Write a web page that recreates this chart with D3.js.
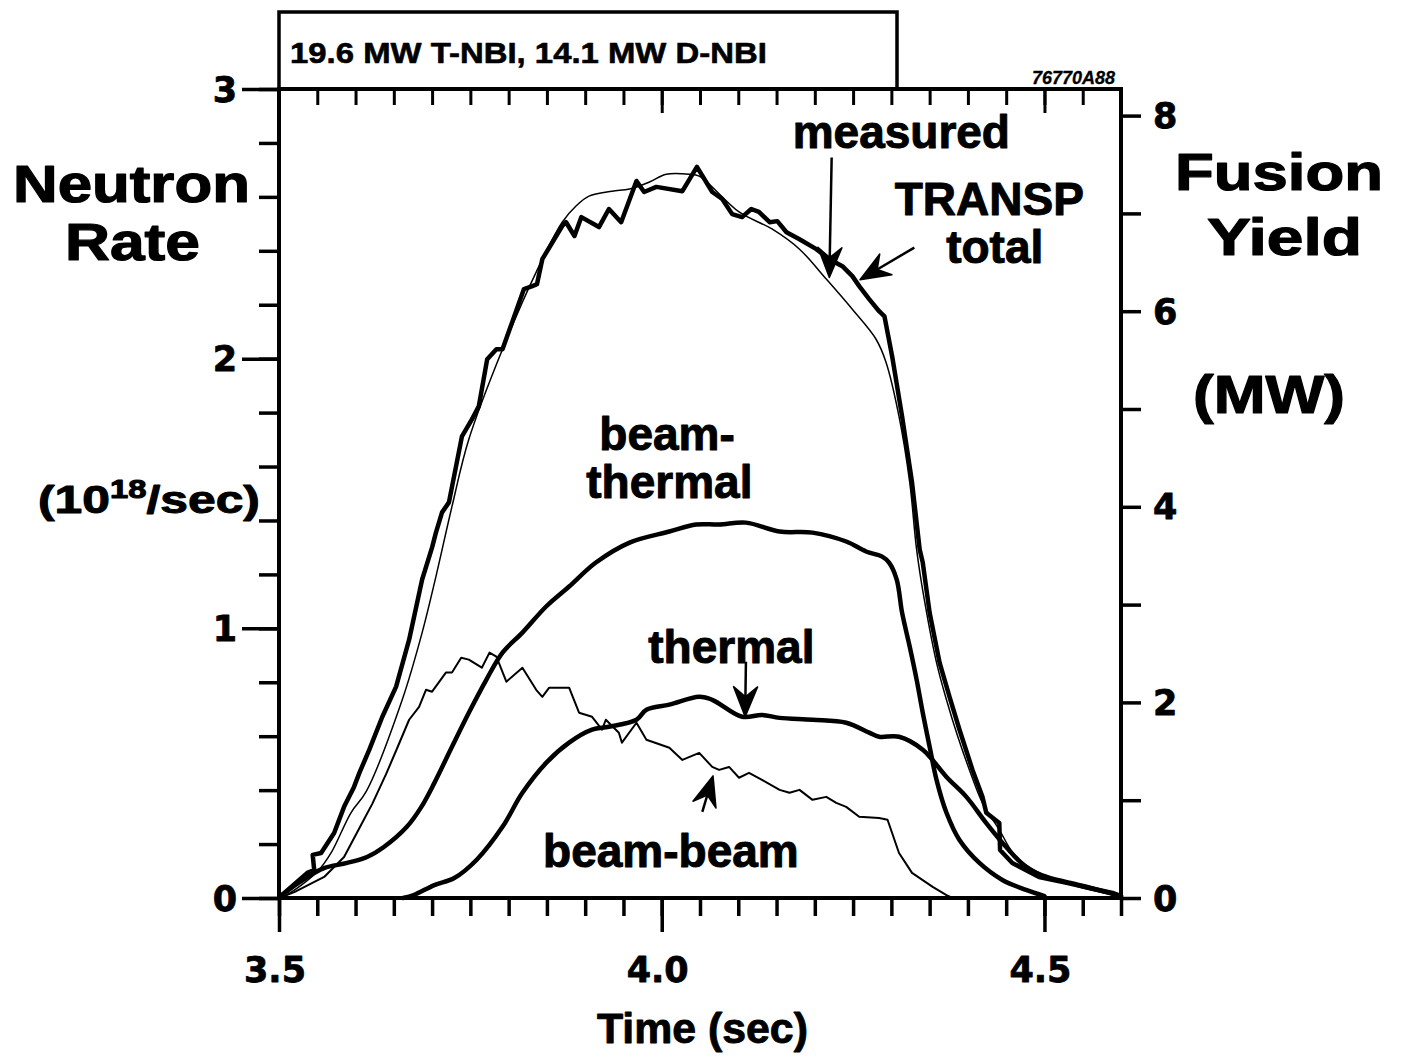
<!DOCTYPE html>
<html><head><meta charset="utf-8">
<script src="https://cdn.jsdelivr.net/npm/d3@7"></script>
<style>body{margin:0;background:#fff} svg{display:block} text{paint-order:stroke;stroke:#000;stroke-linejoin:round}</style>
</head><body>
<svg id="chart" width="1406" height="1056"></svg>
<script>
// ---------------- data (time in s, neutron rate in 1e18/s) ----------------
const xTickValues = [3.5, 4.0, 4.5];
const xTickLabels = ["3.5", "4.0", "4.5"];
const leftTickValues = [0, 1, 2, 3];
const leftTickLabels = ["0", "1", "2", "3"];
const rightTickValues = [0, 2, 4, 6, 8];
const rightTickLabels = ["0", "2", "4", "6", "8"];

const transpTotal = [
[3.500,0.000],[3.504,0.011],[3.537,0.093],[3.546,0.104],[3.544,0.160],[3.555,0.167],
[3.572,0.241],[3.585,0.338],[3.598,0.412],[3.605,0.464],[3.618,0.550],[3.635,0.672],
[3.653,0.784],[3.670,0.958],[3.687,1.181],[3.700,1.300],[3.705,1.355],[3.713,1.430],
[3.722,1.467],[3.739,1.712],[3.752,1.775],[3.761,1.823],[3.772,1.998],[3.784,2.035],
[3.792,2.035],[3.820,2.258],[3.831,2.269],[3.837,2.276],[3.844,2.369],[3.870,2.492],
[3.875,2.506],[3.886,2.455],[3.895,2.525],[3.918,2.488],[3.931,2.555],[3.947,2.506],
[3.967,2.659],[3.977,2.618],[3.993,2.637],[4.027,2.621],[4.046,2.711],[4.066,2.618],
[4.079,2.592],[4.092,2.536],[4.105,2.525],[4.117,2.555],[4.127,2.544],[4.141,2.506],
[4.151,2.510],[4.163,2.469],[4.180,2.443],[4.202,2.406],[4.219,2.369],[4.236,2.343],
[4.249,2.306],[4.258,2.269],[4.271,2.221],[4.284,2.176],[4.291,2.157],[4.301,2.009],
[4.314,1.786],[4.327,1.541],[4.337,1.292],[4.341,1.244],[4.350,1.058],[4.363,0.873],
[4.376,0.746],[4.389,0.624],[4.406,0.475],[4.419,0.375],[4.424,0.316],[4.441,0.278],
[4.442,0.178],[4.458,0.130],[4.493,0.078],[4.529,0.056],[4.559,0.037],[4.589,0.019],
[4.600,0.007]
];

const measured = [
[3.500,0.000],[3.510,0.011],[3.550,0.097],[3.568,0.167],[3.594,0.316],[3.614,0.395],
[3.661,0.735],[3.687,0.984],[3.705,1.192],[3.726,1.452],[3.748,1.701],[3.792,2.035],
[3.836,2.321],[3.870,2.506],[3.888,2.566],[3.905,2.603],[3.935,2.621],[3.958,2.629],
[3.984,2.655],[4.006,2.684],[4.036,2.684],[4.049,2.677],[4.101,2.544],[4.144,2.481],
[4.180,2.406],[4.215,2.295],[4.249,2.183],[4.280,2.072],[4.293,1.987],[4.310,1.786],
[4.324,1.541],[4.333,1.292],[4.343,1.107],[4.359,0.873],[4.372,0.735],[4.386,0.605],
[4.402,0.475],[4.419,0.353],[4.441,0.253],[4.461,0.160],[4.493,0.093],[4.533,0.052],
[4.572,0.022],[4.600,0.005]
];

const beamThermal = [
[3.500,0.000],[3.504,0.011],[3.537,0.078],[3.559,0.111],[3.589,0.130],[3.615,0.152],
[3.637,0.189],[3.667,0.264],[3.686,0.338],[3.703,0.427],[3.726,0.561],[3.748,0.687],
[3.771,0.810],[3.792,0.910],[3.818,0.984],[3.849,1.081],[3.879,1.155],[3.914,1.244],
[3.958,1.318],[4.010,1.359],[4.045,1.385],[4.075,1.385],[4.110,1.392],[4.154,1.359],
[4.197,1.355],[4.241,1.322],[4.267,1.285],[4.288,1.266],[4.297,1.244],[4.307,1.181],
[4.314,1.058],[4.324,0.932],[4.333,0.810],[4.341,0.687],[4.350,0.561],[4.359,0.438],
[4.372,0.316],[4.389,0.215],[4.415,0.130],[4.445,0.067],[4.476,0.030],[4.500,0.007]
];

const thermal = [
[3.662,0.000],[3.676,0.011],[3.703,0.048],[3.729,0.074],[3.758,0.141],[3.792,0.264],
[3.818,0.390],[3.849,0.501],[3.879,0.576],[3.909,0.624],[3.931,0.635],[3.967,0.661],
[3.980,0.698],[4.010,0.717],[4.049,0.746],[4.066,0.735],[4.105,0.672],[4.131,0.679],
[4.154,0.668],[4.197,0.661],[4.241,0.650],[4.271,0.613],[4.284,0.598],[4.310,0.598],
[4.341,0.550],[4.372,0.449],[4.398,0.375],[4.424,0.278],[4.450,0.189],[4.476,0.115],
[4.503,0.078],[4.546,0.048],[4.581,0.022],[4.600,0.007]
];

const beamBeam = [
[3.500,0.000],[3.510,0.011],[3.520,0.022],[3.559,0.078],[3.585,0.152],[3.607,0.270],
[3.622,0.350],[3.640,0.460],[3.655,0.560],[3.670,0.661],[3.683,0.709],[3.692,0.772],
[3.700,0.765],[3.718,0.836],[3.726,0.836],[3.738,0.891],[3.748,0.884],[3.765,0.854],
[3.775,0.910],[3.784,0.895],[3.797,0.802],[3.818,0.854],[3.836,0.772],[3.844,0.746],
[3.853,0.780],[3.879,0.780],[3.892,0.687],[3.909,0.672],[3.922,0.624],[3.927,0.661],
[3.944,0.613],[3.948,0.576],[3.967,0.650],[3.980,0.587],[4.010,0.557],[4.027,0.512],
[4.049,0.538],[4.066,0.486],[4.075,0.475],[4.088,0.486],[4.101,0.446],[4.114,0.464],
[4.131,0.438],[4.154,0.401],[4.167,0.390],[4.180,0.401],[4.197,0.364],[4.215,0.375],
[4.228,0.353],[4.241,0.338],[4.258,0.301],[4.284,0.297],[4.295,0.290],[4.310,0.167],
[4.327,0.093],[4.354,0.041],[4.372,0.011],[4.380,0.000]
];

// annotation labels: [text, t, v]
const curveLabels = [
  ["measured", 4.313, 2.783],
  ["TRANSP", 4.428, 2.531],
  ["total", 4.435, 2.353],
  ["beam-", 4.007, 1.662],
  ["thermal", 4.010, 1.484],
  ["thermal", 4.091, 0.872],
  ["beam-beam", 4.012, 0.115]
];
// arrows: [tailT, tailV, tipT, tipV]
const arrows = [
  [4.222, 2.746, 4.219, 2.301],
  [4.330, 2.412, 4.259, 2.293],
  [4.110, 0.876, 4.109, 0.672],
  [4.053, 0.319, 4.067, 0.453]
];

// ---------------- drawing ----------------
const svg = d3.select("#chart");
svg.append("rect").attr("width",1406).attr("height",1056).attr("fill","#fff");

const x = d3.scaleLinear().domain([3.5, 4.6]).range([279, 1121]);
const y = d3.scaleLinear().domain([0, 3]).range([898, 89]);
const y2 = d3.scaleLinear().domain([0, 8]).range([898, 115.6]);

const SANS = "'Liberation Sans', Arial, Helvetica, sans-serif";
const WIDE = "'DejaVu Sans', Verdana, sans-serif";

function styleAxis(g, w) {
  g.select(".domain").remove();
  g.selectAll(".tick line").attr("stroke", "#000").attr("stroke-width", w);
  g.selectAll(".tick text").remove();
}

// ticks
const minorX = d3.range(0, 23).map(i => +(3.5 + i * 0.05).toFixed(2));
svg.append("g").attr("transform", `translate(0,${y(0)})`)
  .call(d3.axisBottom(x).tickValues(minorX).tickSize(18)).call(g => styleAxis(g, 3.5));
svg.append("g").attr("transform", `translate(0,${y(0)})`)
  .call(d3.axisBottom(x).tickValues(xTickValues).tickSize(34)).call(g => styleAxis(g, 3.5));
svg.append("g").attr("transform", `translate(0,${y(3)})`)
  .call(d3.axisBottom(x).tickValues(minorX).tickSize(16)).call(g => styleAxis(g, 3));
svg.append("g").attr("transform", `translate(0,${y(3)})`)
  .call(d3.axisBottom(x).tickValues([4.0, 4.5]).tickSize(24)).call(g => styleAxis(g, 3));

const minorY = d3.range(0, 16).map(i => +(i * 0.2).toFixed(1));
svg.append("g").attr("transform", `translate(${x(3.5)},0)`)
  .call(d3.axisLeft(y).tickValues(minorY).tickSize(20)).call(g => styleAxis(g, 3.5));
svg.append("g").attr("transform", `translate(${x(3.5)},0)`)
  .call(d3.axisLeft(y).tickValues(leftTickValues).tickSize(37)).call(g => styleAxis(g, 3.5));
svg.append("g").attr("transform", `translate(${x(4.6)},0)`)
  .call(d3.axisRight(y2).tickValues(d3.range(0, 9)).tickSize(20)).call(g => styleAxis(g, 3.5));

// frame
svg.append("rect").attr("x", x(3.5)).attr("y", y(3))
  .attr("width", x(4.6) - x(3.5)).attr("height", y(0) - y(3))
  .attr("fill", "none").attr("stroke", "#000").attr("stroke-width", 4);

// top box
svg.append("rect").attr("x", x(3.5)).attr("y", 12)
  .attr("width", 897 - x(3.5)).attr("height", y(3) - 12)
  .attr("fill", "none").attr("stroke", "#000").attr("stroke-width", 3.5);

function fitText(str, x0, x1, baseline, size, family, sw) {
  const t = svg.append("text").attr("x", 0).attr("y", baseline)
    .attr("font-family", family).attr("font-size", size)
    .attr("font-weight", 700).attr("fill", "#000")
    .attr("stroke-width", sw || 1.2).text(str);
  const bb = t.node().getBBox();
  const k = (x1 - x0) / bb.width;
  t.attr("transform", `translate(${x0 - bb.x * k},0) scale(${k},1)`);
  return t;
}

fitText("19.6 MW T-NBI, 14.1 MW D-NBI", 290, 767, 63, 29, SANS, 0.6);
svg.append("text").attr("x", 1115).attr("y", 84).attr("text-anchor", "end")
  .attr("font-family", SANS).attr("font-size", 18).attr("font-weight", 700)
  .attr("stroke-width", 0.3).attr("font-style", "italic").text("76770A88");

// axis titles
fitText("Neutron", 13, 250, 202, 52, SANS);
fitText("Rate", 65, 200, 260, 52, SANS);
fitText("Fusion", 1175, 1383, 190, 52, SANS);
fitText("Yield", 1207, 1362, 255, 52, SANS);
fitText("(MW)", 1193, 1345, 413, 54, SANS);
fitText("Time (sec)", 597, 808, 1043, 42, SANS, 0.9);
{
  const t = svg.append("text").attr("x", 0).attr("y", 513)
    .attr("font-family", SANS).attr("font-size", 38).attr("font-weight", 700)
    .attr("stroke-width", 1);
  t.append("tspan").text("(10");
  t.append("tspan").attr("font-size", 25).attr("dy", -15).text("18");
  t.append("tspan").attr("dy", 15).text("/sec)");
  const bb = t.node().getBBox();
  const k = (260 - 38) / bb.width;
  t.attr("transform", `translate(${38 - bb.x * k},0) scale(${k},1)`);
}

// tick labels
svg.append("g").selectAll("text").data(leftTickValues).join("text")
  .attr("x", 237).attr("y", d => y(d)).attr("dy", "0.36em")
  .attr("text-anchor", "end").attr("font-family", WIDE).attr("font-size", 35)
  .attr("font-weight", 700).attr("stroke-width", 0.8).text((d, i) => leftTickLabels[i]);
svg.append("g").selectAll("text").data(rightTickValues).join("text")
  .attr("x", 1153).attr("y", d => y2(d)).attr("dy", "0.36em")
  .attr("text-anchor", "start").attr("font-family", WIDE).attr("font-size", 35)
  .attr("font-weight", 700).attr("stroke-width", 0.8).text((d, i) => rightTickLabels[i]);
svg.append("g").selectAll("text").data(xTickValues).join("text")
  .attr("x", d => x(d) - 4).attr("y", 982)
  .attr("text-anchor", "middle").attr("font-family", WIDE).attr("font-size", 35)
  .attr("font-weight", 700).attr("stroke-width", 0.8).text((d, i) => xTickLabels[i]);

// curves
const lineLin = d3.line().x(d => x(d[0])).y(d => y(d[1]));
const lineSmooth = d3.line().x(d => x(d[0])).y(d => y(d[1])).curve(d3.curveCatmullRom.alpha(0.5));
const curves = svg.append("g").attr("fill", "none").attr("stroke", "#000")
  .attr("stroke-linejoin", "round").attr("stroke-linecap", "round");
curves.append("path").attr("d", lineSmooth(beamThermal)).attr("stroke-width", 4.5);
curves.append("path").attr("d", lineSmooth(thermal)).attr("stroke-width", 4.5);
curves.append("path").attr("d", lineLin(beamBeam)).attr("stroke-width", 2);
curves.append("path").attr("d", lineLin(transpTotal)).attr("stroke-width", 4.5);
curves.append("path").attr("d", lineSmooth(measured)).attr("stroke-width", 1.5);

// curve labels
svg.append("g").selectAll("text").data(curveLabels).join("text")
  .attr("x", d => x(d[1])).attr("y", d => y(d[2]))
  .attr("text-anchor", "middle").attr("font-family", SANS).attr("font-size", 46)
  .attr("font-weight", 700).attr("stroke-width", 1).text(d => d[0]);

// arrows
const ag = svg.append("g");
arrows.forEach(a => {
  const x0 = x(a[0]), y0 = y(a[1]), x1 = x(a[2]), y1 = y(a[3]);
  const dx = x1 - x0, dy = y1 - y0, L = Math.hypot(dx, dy);
  const ux = dx / L, uy = dy / L, px = -uy, py = ux;
  const hl = 30, hw = 12, notch = 20;
  ag.append("line").attr("x1", x0).attr("y1", y0)
    .attr("x2", x1 - ux * notch).attr("y2", y1 - uy * notch)
    .attr("stroke", "#000").attr("stroke-width", 2.5);
  const pts = [
    [x1, y1],
    [x1 - ux * hl + px * hw, y1 - uy * hl + py * hw],
    [x1 - ux * notch, y1 - uy * notch],
    [x1 - ux * hl - px * hw, y1 - uy * hl - py * hw]
  ];
  ag.append("polygon").attr("points", pts.map(p => p.join(",")).join(" "))
    .attr("fill", "#000").attr("stroke", "#000").attr("stroke-width", 1.5)
    .attr("stroke-linejoin", "round");
});
</script>
</body></html>
